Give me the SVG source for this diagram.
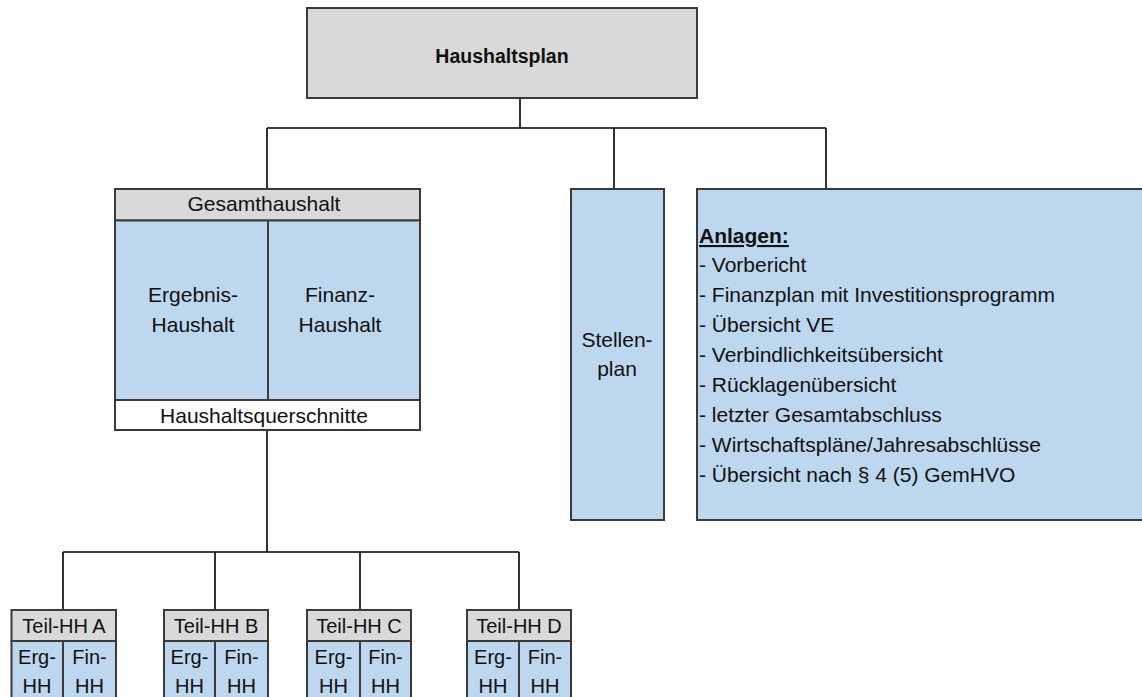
<svg xmlns="http://www.w3.org/2000/svg" width="1142" height="697" viewBox="0 0 1142 697">
  <style>
    .box { stroke: #3a3a3a; stroke-width: 2; }
    .gray { fill: #d9d9d9; }
    .blue { fill: #bdd7ee; }
    .white { fill: #ffffff; }
    .div { stroke: #3a3a3a; stroke-width: 2; fill: none; }
    .conn { stroke: #000000; stroke-width: 1.6; fill: none; }
    text { font-family: "Liberation Sans", Arial, sans-serif; fill: #111111; font-size: 21px; }
    .c { text-anchor: middle; }
    .small { font-size: 20px; }
    .title { font-weight: bold; font-size: 19.5px; }
  </style>
  <rect x="0" y="0" width="1142" height="697" fill="#ffffff"/>

  <g id="connectors">
    <path class="conn" d="M520 98 V128 M267 128 H826 M267 128 V189 M614 128 V189 M826 128 V189"/>
    <path class="conn" d="M267 430 V552 M63 552 H519 M63 552 V610 M215 552 V610 M360 552 V610 M519 552 V610"/>
  </g>

  <g id="haushaltsplan">
    <rect class="box gray" x="307" y="8" width="390" height="90"/>
    <text class="c title" x="502" y="63">Haushaltsplan</text>
  </g>

  <g id="gesamthaushalt">
    <rect class="box gray" x="115" y="189" width="305" height="31.5"/>
    <rect class="box blue" x="115" y="220.5" width="305" height="179.5"/>
    <rect class="box white" x="115" y="400" width="305" height="30"/>
    <line class="div" x1="268" y1="220.5" x2="268" y2="400"/>
    <text class="c" x="264" y="211">Gesamthaushalt</text>
    <text class="c" x="193" y="302">Ergebnis-</text>
    <text class="c" x="193" y="332">Haushalt</text>
    <text class="c" x="340" y="302">Finanz-</text>
    <text class="c" x="340" y="332">Haushalt</text>
    <text class="c" x="264" y="423">Haushaltsquerschnitte</text>
  </g>

  <g id="stellenplan">
    <rect class="box blue" x="571" y="189" width="93" height="331"/>
    <text class="c" x="617" y="347">Stellen-</text>
    <text class="c" x="617" y="376">plan</text>
  </g>

  <g id="anlagen">
    <rect class="box blue" x="697" y="189" width="460" height="331"/>
    <text x="699" y="243" font-weight="bold" text-decoration="underline">Anlagen:</text>
    <text x="699" y="272">- Vorbericht</text>
    <text x="699" y="302">- Finanzplan mit Investitionsprogramm</text>
    <text x="699" y="332">- Übersicht VE</text>
    <text x="699" y="362">- Verbindlichkeitsübersicht</text>
    <text x="699" y="392">- Rücklagenübersicht</text>
    <text x="699" y="422">- letzter Gesamtabschluss</text>
    <text x="699" y="452">- Wirtschaftspläne/Jahresabschlüsse</text>
    <text x="699" y="482">- Übersicht nach § 4 (5) GemHVO</text>
  </g>

  <g id="teil-hh-a">
    <rect class="box gray" x="11.5" y="610" width="104.5" height="31"/>
    <rect class="box blue" x="11.5" y="641" width="104.5" height="60"/>
    <line class="div" x1="63" y1="641" x2="63" y2="700"/>
    <text class="c small" x="64" y="633">Teil-HH A</text>
    <text class="c small" x="37" y="664">Erg-</text>
    <text class="c small" x="37" y="693">HH</text>
    <text class="c small" x="89.5" y="664">Fin-</text>
    <text class="c small" x="89.5" y="693">HH</text>
  </g>

  <g id="teil-hh-b">
    <rect class="box gray" x="164" y="610" width="104" height="31"/>
    <rect class="box blue" x="164" y="641" width="104" height="60"/>
    <line class="div" x1="215" y1="641" x2="215" y2="700"/>
    <text class="c small" x="216" y="633">Teil-HH B</text>
    <text class="c small" x="189.5" y="664">Erg-</text>
    <text class="c small" x="241.5" y="664">Fin-</text>
    <text class="c small" x="189.5" y="693">HH</text>
    <text class="c small" x="241.5" y="693">HH</text>
  </g>

  <g id="teil-hh-c">
    <rect class="box gray" x="307" y="610" width="104" height="31"/>
    <rect class="box blue" x="307" y="641" width="104" height="60"/>
    <line class="div" x1="360" y1="641" x2="360" y2="700"/>
    <text class="c small" x="359" y="633">Teil-HH C</text>
    <text class="c small" x="333.5" y="664">Erg-</text>
    <text class="c small" x="385.5" y="664">Fin-</text>
    <text class="c small" x="333.5" y="693">HH</text>
    <text class="c small" x="385.5" y="693">HH</text>
  </g>

  <g id="teil-hh-d">
    <rect class="box gray" x="467" y="610" width="104" height="31"/>
    <rect class="box blue" x="467" y="641" width="104" height="60"/>
    <line class="div" x1="519" y1="641" x2="519" y2="700"/>
    <text class="c small" x="519" y="633">Teil-HH D</text>
    <text class="c small" x="493" y="664">Erg-</text>
    <text class="c small" x="545" y="664">Fin-</text>
    <text class="c small" x="493" y="693">HH</text>
    <text class="c small" x="545" y="693">HH</text>
  </g>
</svg>
